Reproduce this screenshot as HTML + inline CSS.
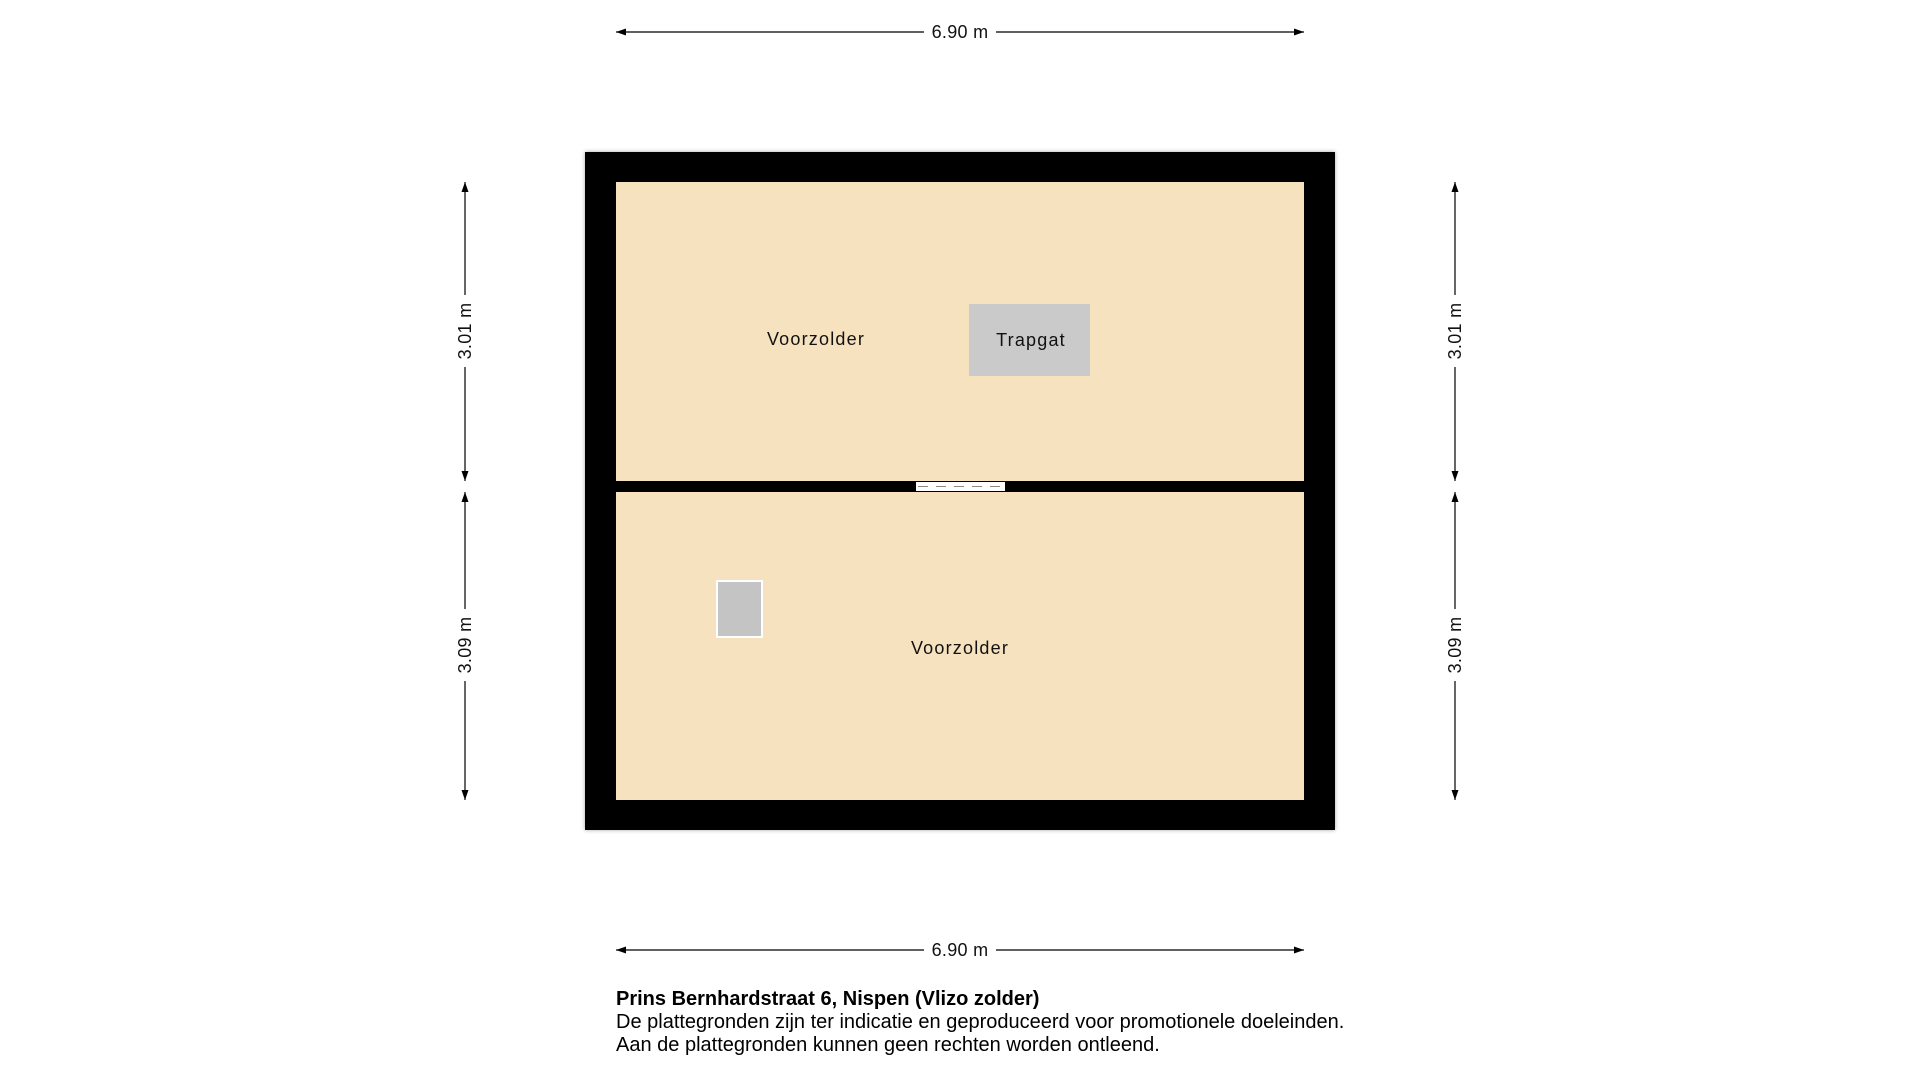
<!DOCTYPE html>
<html><head><style>
body{margin:0;background:#fff;width:1920px;height:1080px;overflow:hidden}
svg{position:absolute;left:0;top:0}
.t{font-family:"Liberation Sans",sans-serif;}
</style></head><body>
<svg width="1920" height="1080" viewBox="0 0 1920 1080">
<defs>
<marker id="a" viewBox="0 0 10 10" refX="10" refY="5" markerWidth="10" markerHeight="10" orient="auto-start-reverse" markerUnits="userSpaceOnUse"><path d="M0,1.5 L10,5 L0,8.5z" fill="#000"/></marker>
<filter id="sh" x="-5%" y="-5%" width="110%" height="110%"><feDropShadow dx="0" dy="0" stdDeviation="2" flood-opacity="0.35"/></filter>
</defs>
<rect x="585" y="152" width="750" height="678" fill="#000" filter="url(#sh)"/>
<rect x="616" y="182" width="688" height="299" fill="#f7e2c0"/>
<rect x="616" y="492" width="688" height="308" fill="#f7e2c0"/>
<rect x="916" y="482" width="89" height="9" fill="#fff"/>
<line x1="918" y1="486.5" x2="1003" y2="486.5" stroke="#888" stroke-width="1" stroke-dasharray="10,8"/>
<rect x="969" y="304" width="121" height="72" fill="#cacaca"/>
<rect x="717" y="581" width="45" height="56" fill="#c4c4c4" stroke="#fff" stroke-width="2"/>
<g class="t" font-size="18" fill="#111" text-anchor="middle" letter-spacing="1.2">
<text x="816" y="345">Voorzolder</text>
<text x="1031" y="346">Trapgat</text>
<text x="960" y="654">Voorzolder</text>
</g>
<g stroke="#000" stroke-width="1.2" marker-start="url(#a)" marker-end="url(#a)">
<line x1="616" y1="32" x2="1304" y2="32"/>
<line x1="616" y1="950" x2="1304" y2="950"/>
<line x1="465" y1="182" x2="465" y2="481"/>
<line x1="465" y1="492" x2="465" y2="800"/>
<line x1="1455" y1="182" x2="1455" y2="481"/>
<line x1="1455" y1="492" x2="1455" y2="800"/>
</g>
<g class="t" font-size="18" fill="#111" text-anchor="middle" letter-spacing="0.3">
<rect x="924" y="20" width="72" height="24" fill="#fff"/>
<text x="960" y="38">6.90 m</text>
<rect x="924" y="938" width="72" height="24" fill="#fff"/>
<text x="960" y="956">6.90 m</text>
<rect x="453" y="295" width="24" height="72" fill="#fff"/>
<text transform="translate(471,331) rotate(-90)">3.01 m</text>
<rect x="453" y="609" width="24" height="72" fill="#fff"/>
<text transform="translate(471,645) rotate(-90)">3.09 m</text>
<rect x="1443" y="295" width="24" height="72" fill="#fff"/>
<text transform="translate(1461,331) rotate(-90)">3.01 m</text>
<rect x="1443" y="609" width="24" height="72" fill="#fff"/>
<text transform="translate(1461,645) rotate(-90)">3.09 m</text>
</g>
<g class="t" font-size="20" fill="#000">
<text x="616" y="1005" font-weight="bold">Prins Bernhardstraat 6, Nispen (Vlizo zolder)</text>
<text x="616" y="1028">De plattegronden zijn ter indicatie en geproduceerd voor promotionele doeleinden.</text>
<text x="616" y="1051">Aan de plattegronden kunnen geen rechten worden ontleend.</text>
</g>
</svg>
</body></html>
